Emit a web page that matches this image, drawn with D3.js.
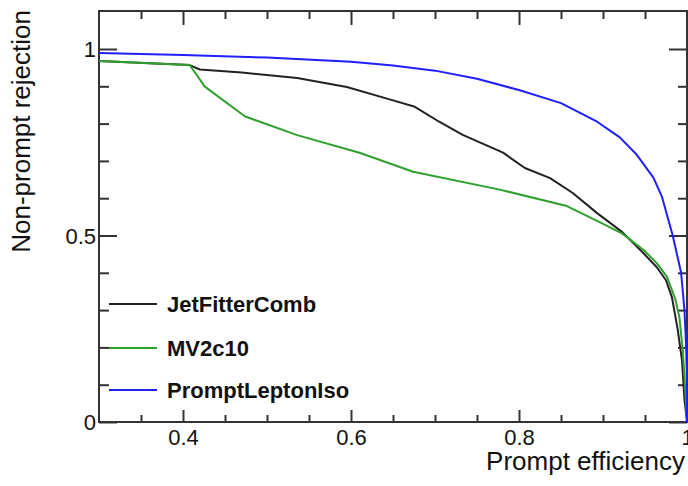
<!DOCTYPE html>
<html><head><meta charset="utf-8">
<script src="https://cdn.jsdelivr.net/npm/d3@7"></script>
<style>body{margin:0;background:#fff} text{font-family:"Liberation Sans",Arial,sans-serif;fill:#111}</style>
</head><body><svg id="c" width="688" height="486"></svg>
<script>
// ---- data ----
const xMajorTicks = [0.4, 0.6, 0.8, 1];
const xMinorTicks = [0.35, 0.45, 0.5, 0.55, 0.65, 0.7, 0.75, 0.85, 0.9, 0.95];
const yMajorTicks = [0, 0.5, 1];
const yMinorTicks = [0.1, 0.2, 0.3, 0.4, 0.6, 0.7, 0.8, 0.9];

const seriesNames = ["JetFitterComb", "MV2c10", "PromptLeptonIso"];
const seriesColors = ["#222222", "#2ea02e", "#1f1fff"];

const jetX = [0.3, 0.408, 0.42, 0.47, 0.536, 0.595, 0.646, 0.676, 0.705, 0.733, 0.781, 0.807, 0.837, 0.864, 0.893, 0.923, 0.948, 0.964, 0.975, 0.982, 0.989, 0.994, 0.997, 1.0];
const jetY = [0.968, 0.957, 0.945, 0.937, 0.922, 0.898, 0.865, 0.845, 0.805, 0.77, 0.722, 0.681, 0.654, 0.614, 0.56, 0.509, 0.453, 0.415, 0.38, 0.335, 0.247, 0.166, 0.06, 0.0];

const mvX = [0.3, 0.408, 0.426, 0.474, 0.536, 0.611, 0.674, 0.777, 0.857, 0.896, 0.923, 0.948, 0.964, 0.976, 0.986, 0.991, 0.995, 0.998, 1.0];
const mvY = [0.968, 0.957, 0.899, 0.819, 0.769, 0.721, 0.671, 0.623, 0.579, 0.536, 0.505, 0.462, 0.426, 0.39, 0.33, 0.28, 0.19, 0.086, 0.0];

const pliX = [0.3, 0.4, 0.5, 0.6, 0.65, 0.7, 0.75, 0.8, 0.85, 0.893, 0.92, 0.94, 0.96, 0.97, 0.983, 0.993, 0.997, 0.999, 1.0, 1.0];
const pliY = [0.989, 0.984, 0.977, 0.966, 0.956, 0.942, 0.92, 0.89, 0.855, 0.805, 0.763, 0.717, 0.655, 0.605, 0.50, 0.40, 0.30, 0.20, 0.1, 0.0];

const seriesX = [jetX, mvX, pliX];
const seriesY = [jetY, mvY, pliY];

// ---- layout ----
const svg = d3.select("#c");
const L = 99, R = 687, T = 11, B = 422;
const x = d3.scaleLinear().domain([0.3, 1.0]).range([L, R]);
const y = d3.scaleLinear().domain([0, 1.0]).range([B, 49]);

const fmt = v => String(v);
const frameCol = "#333";

function axisStyle(g){
  g.select(".domain").remove();
  g.selectAll(".tick line").attr("stroke", frameCol).attr("stroke-width", 2);
}

// bottom
svg.append("g").attr("transform", `translate(0,${B})`)
  .call(d3.axisBottom(x).tickValues(xMajorTicks).tickSize(-12).tickPadding(0).tickFormat(fmt))
  .call(axisStyle)
  .call(g => g.selectAll("text").attr("font-size", 22).attr("y", 23).attr("dy", 0).style("font-family", "Liberation Sans, Arial, sans-serif").attr("fill", "#111"));
svg.append("g").attr("transform", `translate(0,${B})`)
  .call(d3.axisBottom(x).tickValues(xMinorTicks).tickSize(-7).tickFormat(""))
  .call(axisStyle);
// top
svg.append("g").attr("transform", `translate(0,${T})`)
  .call(d3.axisTop(x).tickValues(xMajorTicks).tickSize(-14).tickFormat(""))
  .call(axisStyle);
svg.append("g").attr("transform", `translate(0,${T})`)
  .call(d3.axisTop(x).tickValues(xMinorTicks).tickSize(-8).tickFormat(""))
  .call(axisStyle);
// left
svg.append("g").attr("transform", `translate(${L},0)`)
  .call(d3.axisLeft(y).tickValues(yMajorTicks).tickSize(-18).tickPadding(0).tickFormat(fmt))
  .call(axisStyle)
  .call(g => g.selectAll("text").attr("font-size", 22).attr("x", -3).attr("dy", "0.36em").style("font-family", "Liberation Sans, Arial, sans-serif").attr("fill", "#111"));
svg.append("g").attr("transform", `translate(${L},0)`)
  .call(d3.axisLeft(y).tickValues(yMinorTicks).tickSize(-10).tickFormat(""))
  .call(axisStyle);
// right
svg.append("g").attr("transform", `translate(${R},0)`)
  .call(d3.axisRight(y).tickValues(yMajorTicks).tickSize(-18).tickFormat(""))
  .call(axisStyle);
svg.append("g").attr("transform", `translate(${R},0)`)
  .call(d3.axisRight(y).tickValues(yMinorTicks).tickSize(-9).tickFormat(""))
  .call(axisStyle);

// frame
svg.append("rect").attr("x", L).attr("y", T).attr("width", R - L).attr("height", B - T)
  .attr("fill", "none").attr("stroke", frameCol).attr("stroke-width", 2);

// curves
const line = d3.line().x(d => x(d[0])).y(d => y(d[1]));
seriesNames.forEach((name, i) => {
  const pts = seriesX[i].map((v, j) => [v, seriesY[i][j]]);
  svg.append("path").datum(pts).attr("d", line)
    .attr("fill", "none").attr("stroke", seriesColors[i]).attr("stroke-width", 2)
    .attr("stroke-linejoin", "round");
});

// legend
const legY = [304, 348, 390];
seriesNames.forEach((name, i) => {
  svg.append("line").attr("x1", 109).attr("x2", 157).attr("y1", legY[i]).attr("y2", legY[i])
    .attr("stroke", seriesColors[i]).attr("stroke-width", 2);
  svg.append("text").attr("x", 167).attr("y", legY[i] + 8).attr("font-size", 22)
    .attr("font-weight", "bold").text(name);
});

// axis titles
svg.append("text").attr("x", 685).attr("y", 470).attr("text-anchor", "end")
  .attr("font-size", 26).text("Prompt efficiency");
svg.append("text").attr("transform", "translate(30,10) rotate(-90)").attr("text-anchor", "end")
  .attr("font-size", 26).text("Non-prompt rejection");
</script></body></html>
